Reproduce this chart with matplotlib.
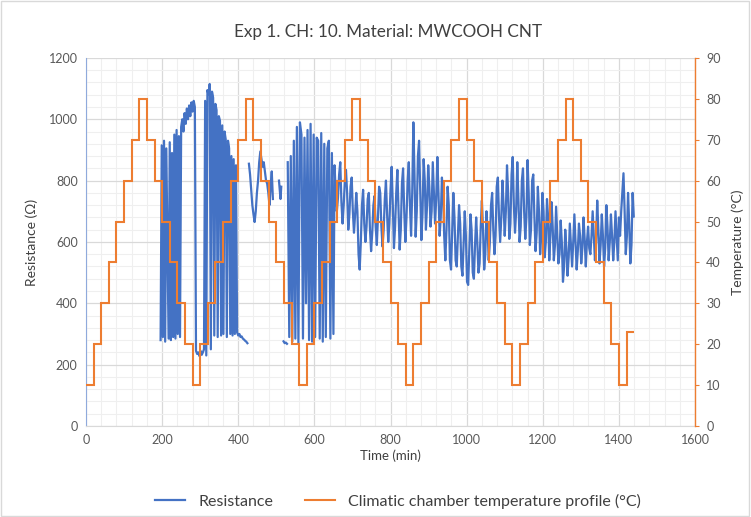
import numpy as np
import matplotlib.pyplot as plt
from matplotlib.ticker import MultipleLocator
from matplotlib.patches import Rectangle

plt.rcParams['font.family'] = ['Lato', 'DejaVu Sans']

BLUE = '#4472C4'
ORANGE = '#ED7D31'
GREY = '#595959'

# climatic chamber profile, one level every 20 min
temp_step = 20
temp_levels = [10, 20, 30, 40, 50, 60, 70, 80, 70, 60, 50, 40, 30, 20,
               10, 20, 30, 40, 50, 60, 70, 80, 70, 60, 50, 40, 30, 20,
               10, 20, 30, 40, 50, 60, 70, 80, 70, 60, 50, 40, 30, 20,
               10, 20, 30, 40, 50, 60, 70, 80, 70, 60, 50, 40, 30, 20,
               10, 20, 30, 40, 50, 60, 70, 80, 70, 60, 50, 40, 30, 20,
               10, 23]

# resistance record in pieces (start, sample step in min)
burst1_start, burst1_step = 196, 3
burst1 = [280, 915, 290, 930, 275, 905, 600, 285, 925, 280, 890, 290, 950,
          285, 965, 300, 945,
          290, 975, 1000, 960, 1020, 985, 1035, 1000, 1045, 1010, 1055, 1025,
          1060, 1040,
          245, 235, 240, 228, 245, 232, 240, 250,
          1060, 230, 1095, 1080, 1115, 250, 1090, 1070, 295, 1050, 1030, 290,
          1010, 995, 295, 980, 300, 960, 935, 290, 930, 905, 300, 880, 295,
          870, 300, 850,
          305, 295, 300, 290, 292, 285, 282, 278, 275, 270]

drift_t = [428, 431, 434, 437, 440, 443, 446, 449, 452, 455, 458, 461, 464, 467,
           470, 473, 476, 479, 482, 485, 488, 491]
drift_r = [855, 820, 770, 720, 690, 665, 700, 760, 800, 860, 895, 870, 845, 860,
           830, 800, 790, 760, 720, 780, 830, 740]
blip_t = [507, 509, 511, 513]
blip_r = [800, 770, 740, 780]
dot_t = [519, 522, 525, 528]
dot_r = [276, 270, 272, 268]

burst2_start, burst2_step = 530, 4
burst2 = [860, 290, 880, 275, 930, 285, 975, 270, 990, 950, 285, 940, 400,
          965, 280, 985, 275, 950, 290, 940, 930, 285, 955, 275, 920, 290,
          905, 930, 285, 890, 300]

wave_start, wave_step = 653, 3
wave = [850, 760, 700, 745, 820, 860, 730, 660, 720, 800,
        835, 760, 640, 690, 780, 810, 700, 630, 690, 760,
        700, 560, 510, 600, 720, 770, 660, 600, 650, 740,
        760, 640, 570, 630, 720, 750, 650, 590, 680, 780,
        760, 650, 585, 640, 740, 800, 690, 600, 660, 770,
        845, 720, 580, 650, 760, 835, 700, 575, 640, 790,
        840, 700, 600, 680, 800, 860, 720, 620, 760, 990,
        820, 617, 700, 880, 930, 760, 606, 690, 870, 800,
        640, 720, 850, 780, 650, 700, 860, 760, 660, 740,
        877, 760, 620, 680, 810, 760, 620, 540, 640, 780,
        720, 540, 510, 640, 760, 680, 540, 520, 620, 720,
        660, 520, 490, 600, 700, 620, 470, 460, 580, 690,
        640, 500, 480, 590, 680, 600, 500, 530, 650, 735,
        640, 510, 560, 700, 640, 540, 600, 720, 760, 640,
        560, 620, 780, 810, 680, 600, 680, 800, 720, 620,
        700, 850, 760, 610, 660, 820, 877, 720, 630, 700,
        860, 740, 600, 650, 800, 840, 700, 610, 680, 867,
        760, 590, 640, 800, 820, 680, 570, 630, 780, 700,
        560, 620, 760, 700, 550, 600, 740, 680, 540, 620,
        730, 650, 540, 590, 715, 620, 530, 560, 670, 600,
        470, 520, 640, 580, 490, 550, 660, 590, 520, 600,
        690, 600, 510, 570, 660, 620, 530, 580, 680, 610,
        520, 600, 650, 580, 560, 620, 700, 620, 540, 600,
        735, 640, 530, 590, 690, 620, 520, 580, 720, 650,
        540, 600, 690, 620, 540, 600, 700, 620, 540, 680,
        620, 700, 760, 824, 700, 560, 620, 760, 660, 530,
        590, 760, 683]


def piece(start, step, vals):
    return start + step * np.arange(len(vals)), np.array(vals, dtype=float)


b1_t, b1_r = piece(burst1_start, burst1_step, burst1)
b2_t, b2_r = piece(burst2_start, burst2_step, burst2)
w_t, w_r = piece(wave_start, wave_step, wave)

gap = [np.nan]
res_t = np.concatenate([b1_t, gap, drift_t, gap, blip_t, gap, dot_t, gap, b2_t, w_t])
res_r = np.concatenate([b1_r, gap, drift_r, gap, blip_r, gap, dot_r, gap, b2_r, w_r])

temp_edges = temp_step * np.arange(len(temp_levels) + 1)

fig = plt.figure(figsize=(7.51, 5.17), dpi=100)
ax = fig.add_axes([0.1145, 0.176, 0.811, 0.712])
ax2 = ax.twinx()

ax.plot(res_t, res_r, color=BLUE, lw=1.6, label='Resistance')
ax2.stairs(temp_levels, temp_edges, baseline=None, color=ORANGE, lw=1.5,
           label='Climatic chamber temperature profile (°C)')

ax.set_xlim(0, 1600)
ax.set_ylim(0, 1200)
ax2.set_ylim(0, 90)
ax.xaxis.set_major_locator(MultipleLocator(200))
ax.xaxis.set_minor_locator(MultipleLocator(40))
ax.yaxis.set_major_locator(MultipleLocator(200))
ax.yaxis.set_minor_locator(MultipleLocator(40))
ax2.yaxis.set_major_locator(MultipleLocator(10))

ax.grid(which='major', color='#d9d9d9', lw=0.9)
ax.grid(which='minor', color='#efefef', lw=0.8)
ax.set_axisbelow(True)

for a in (ax, ax2):
    a.spines['top'].set_visible(False)
ax.spines['bottom'].set_color('#d9d9d9')
ax.spines['left'].set_color('#8FAADC')
ax.spines['right'].set_visible(False)
ax2.spines['left'].set_visible(False)
ax2.spines['bottom'].set_visible(False)
ax2.spines['right'].set_color(ORANGE)
ax2.spines['right'].set_linewidth(1.0)

ax.tick_params(axis='both', which='both', length=0, labelsize=9, colors=GREY, pad=6)
ax2.tick_params(axis='y', length=3, width=0.8, color=ORANGE, labelsize=9,
                labelcolor=GREY, pad=5)

ax.set_xlabel('Time (min)', fontsize=9.5, color='#404040', labelpad=2)
ax.set_ylabel('Resistance (Ω)', fontsize=10, color='#404040', labelpad=8)
ax2.set_ylabel('Temperature (°C)', fontsize=10, color='#404040', labelpad=8)

fig.suptitle('Exp 1. CH: 10. Material: MWCOOH CNT', x=0.517, y=0.953,
             fontsize=12.3, color='#404040')

h1, l1 = ax.get_legend_handles_labels()
h2, l2 = ax2.get_legend_handles_labels()
fig.legend(h1 + h2, l1 + l2, loc='lower center', bbox_to_anchor=(0.53, -0.012),
           ncol=2, frameon=False, fontsize=11.5, handlelength=1.9,
           columnspacing=2.0, labelcolor='#404040')

fig.patches.append(Rectangle((0.001, 0.002), 0.997, 0.996, transform=fig.transFigure,
                             fill=False, edgecolor='#d9d9d9', lw=1))

fig.savefig('out.png', dpi=100)
